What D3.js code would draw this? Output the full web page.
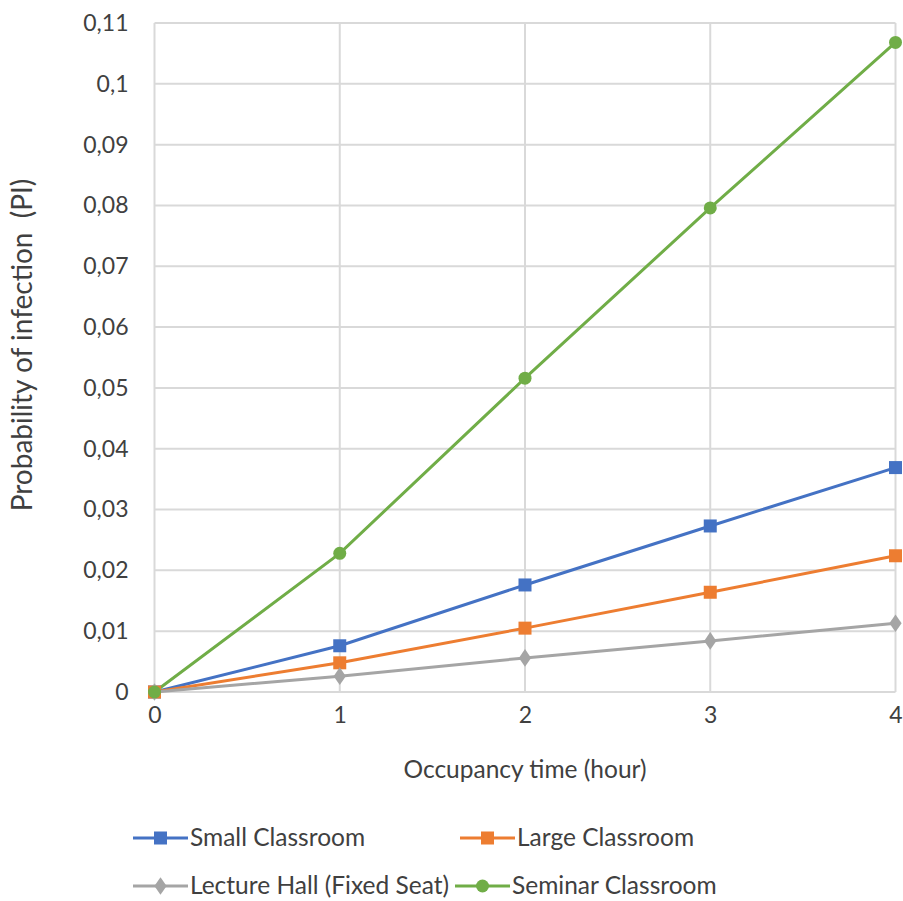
<!DOCTYPE html>
<html><head><meta charset="utf-8">
<script src="https://cdn.jsdelivr.net/npm/d3@7"></script>
<style>body{margin:0;background:#fff}svg{display:block}text{font-family:Lato,"Open Sans",sans-serif;fill:#404040}</style>
</head><body><svg id="c" width="903" height="901"></svg>
<script>
const hours = [0, 1, 2, 3, 4];
const smallClassroom = [0, 0.0076, 0.0176, 0.0273, 0.0369];
const largeClassroom = [0, 0.0048, 0.0105, 0.0164, 0.0224];
const lectureHall = [0, 0.0026, 0.0056, 0.0084, 0.0113];
const seminarClassroom = [0, 0.0228, 0.0516, 0.0796, 0.1068];
const yTicks = [0,0.01,0.02,0.03,0.04,0.05,0.06,0.07,0.08,0.09,0.1,0.11];
const seriesNames = ["Small Classroom","Large Classroom","Lecture Hall (Fixed Seat)","Seminar Classroom"];

const series = [
  {name: seriesNames[0], values: smallClassroom, color: "#4472C4", marker: "square"},
  {name: seriesNames[1], values: largeClassroom, color: "#ED7D31", marker: "square"},
  {name: seriesNames[2], values: lectureHall, color: "#A5A5A5", marker: "diamond"},
  {name: seriesNames[3], values: seminarClassroom, color: "#70AD47", marker: "circle"}
];

const svg = d3.select("#c");
const x = d3.scaleLinear().domain([0,4]).range([154.5,895.5]);
const y = d3.scaleLinear().domain([0,0.11]).range([692,23]);
const fmt = v => (v===0 ? "0" : String(+v.toFixed(2)).replace(".", ","));

const g = svg.append("g");
g.selectAll("line.h").data(yTicks).join("line")
  .attr("x1", x(0)).attr("x2", x(4)).attr("y1", d=>y(d)).attr("y2", d=>y(d))
  .attr("stroke", "#d9d9d9").attr("stroke-width", 2);
g.selectAll("line.v").data(hours).join("line")
  .attr("y1", y(0)).attr("y2", y(0.11)).attr("x1", d=>x(d)).attr("x2", d=>x(d))
  .attr("stroke", "#d9d9d9").attr("stroke-width", 2);

const yAxis = d3.axisLeft(y).tickValues(yTicks).tickFormat(fmt).tickSize(0).tickPadding(26);
const ya = svg.append("g").attr("transform", `translate(${x(0)},0)`).call(yAxis);
ya.select(".domain").remove();
ya.selectAll("text").style("font-size","23px").attr("fill","#404040");
const xAxis = d3.axisBottom(x).tickValues(hours).tickFormat(d3.format("d")).tickSize(0).tickPadding(15);
const xa = svg.append("g").attr("transform", `translate(0,${y(0)})`).call(xAxis);
xa.select(".domain").remove();
xa.selectAll("text").style("font-size","23px").attr("fill","#404040");

svg.append("text").attr("x", 525).attr("y", 778).attr("text-anchor","middle")
  .style("font-size","24.5px").text("Occupancy time (hour)");
svg.append("text").attr("transform","translate(32,345) rotate(-90)").attr("text-anchor","middle")
  .style("font-size","28px").style("white-space","pre").text("Probability of infection  (PI)");

function drawMarker(sel, type, color) {
  if (type === "square") sel.append("rect").attr("x",-6.5).attr("y",-6.5).attr("width",13).attr("height",13).attr("fill",color);
  else if (type === "circle") sel.append("circle").attr("r",6.5).attr("fill",color);
  else sel.append("path").attr("d", d3.symbol(d3.symbolDiamond, 90)()).attr("fill",color).attr("transform","scale(1.2,1)");
}

const line = d3.line().x((d,i)=>x(hours[i])).y(d=>y(d));
series.forEach(s => {
  svg.append("path").attr("d", line(s.values)).attr("fill","none").attr("stroke", s.color).attr("stroke-width",3);
});
series.forEach(s => {
  s.values.forEach((v,i) => {
    const m = svg.append("g").attr("transform", `translate(${x(hours[i])},${y(v)})`);
    drawMarker(m, s.marker, s.color);
  });
});

const legPos = [[133,838],[460,838],[133,886],[455,886]];
series.forEach((s,i) => {
  const [lx, ly] = legPos[i];
  const lg = svg.append("g").attr("transform", `translate(${lx},${ly})`);
  lg.append("line").attr("x1",0).attr("x2",55).attr("y1",0).attr("y2",0).attr("stroke",s.color).attr("stroke-width",3);
  const m = lg.append("g").attr("transform","translate(27.5,0)");
  drawMarker(m, s.marker, s.color);
  lg.append("text").attr("x",57).attr("y",8).style("font-size","24.5px").text(s.name);
});
</script></body></html>
